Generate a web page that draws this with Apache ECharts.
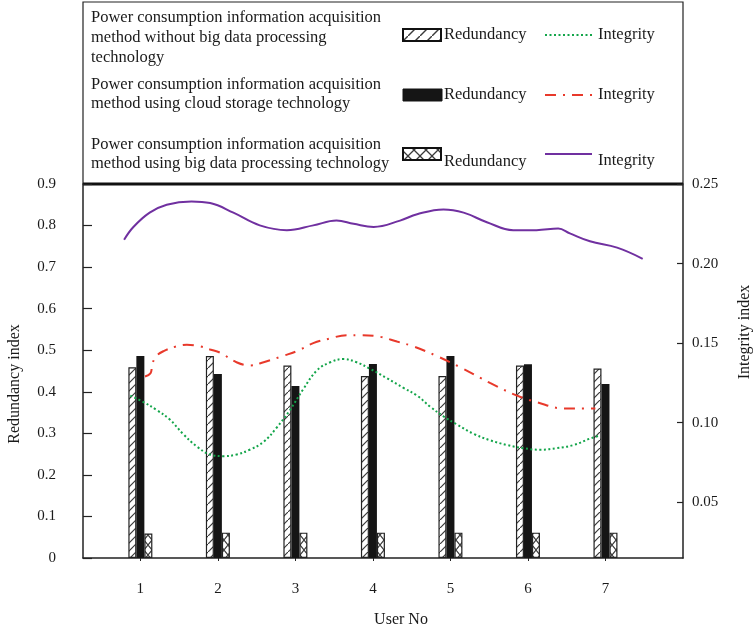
<!DOCTYPE html>
<html><head><meta charset="utf-8">
<script src="https://cdn.jsdelivr.net/npm/echarts@6/dist/echarts.min.js"></script>
<style>html,body{margin:0;padding:0;background:#fff}#c{width:753px;height:631px}</style>
</head><body><div id="c"></div>
<script>
// ---- data ----
const userNos = [1, 2, 3, 4, 5, 6, 7];
const redundancyTicks = [0, 0.1, 0.2, 0.3, 0.4, 0.5, 0.6, 0.7, 0.8, 0.9];
const integrityTicks = [0.05, 0.10, 0.15, 0.20, 0.25];
const redundancyNoBigData = [0.459, 0.486, 0.463, 0.438, 0.438, 0.463, 0.456];
const redundancyCloud     = [0.486, 0.443, 0.414, 0.467, 0.486, 0.466, 0.419];
const redundancyBigData   = [0.059, 0.061, 0.061, 0.061, 0.061, 0.061, 0.061];
// integrity curves: [userNo position, integrity index]
const integrityNoBigData = [[0.87,0.117],[1.04,0.113],[1.21,0.108],[1.38,0.102],[1.55,0.093],[1.73,0.085],[1.90,0.080],[2.07,0.079],[2.24,0.080],[2.41,0.083],[2.59,0.088],[2.76,0.097],[2.93,0.108],[3.10,0.121],[3.28,0.133],[3.45,0.138],[3.62,0.140],[3.79,0.138],[3.96,0.134],[4.18,0.128],[4.39,0.122],[4.57,0.117],[4.74,0.110],[4.91,0.104],[5.08,0.099],[5.30,0.093],[5.51,0.089],[5.73,0.086],[5.94,0.084],[6.16,0.083],[6.37,0.084],[6.59,0.086],[6.80,0.090],[6.93,0.092]];
const integrityCloud = [[1.06,0.129],[1.13,0.131],[1.15,0.135],[1.19,0.141],[1.30,0.145],[1.47,0.148],[1.60,0.149],[1.77,0.148],[1.90,0.146],[2.03,0.144],[2.24,0.138],[2.41,0.136],[2.59,0.138],[2.84,0.142],[3.02,0.145],[3.23,0.150],[3.45,0.153],[3.66,0.155],[3.83,0.155],[4.09,0.154],[4.31,0.151],[4.52,0.148],[4.82,0.142],[5.12,0.135],[5.51,0.125],[5.86,0.117],[6.11,0.113],[6.46,0.109],[6.71,0.109],[6.87,0.109]];
const integrityBigData = [[0.79,0.215],[0.91,0.223],[1.12,0.232],[1.34,0.237],[1.66,0.239],[1.90,0.238],[2.20,0.232],[2.54,0.224],[2.89,0.221],[3.23,0.224],[3.53,0.227],[3.75,0.225],[4.01,0.223],[4.35,0.227],[4.57,0.231],[4.91,0.234],[5.17,0.232],[5.47,0.226],[5.81,0.221],[6.11,0.221],[6.39,0.222],[6.54,0.219],[6.80,0.214],[7.15,0.210],[7.48,0.203]];

const legendTitles = [
  ['Power consumption information acquisition', 'method without big data processing', 'technology'],
  ['Power consumption information acquisition', 'method using cloud storage technology'],
  ['Power consumption information acquisition', 'method using big data processing technology']
];
const FONT = 'Liberation Serif';

function makeHatch(size, lw) {
  const c = document.createElement('canvas'); c.width = size; c.height = size;
  const g = c.getContext('2d');
  g.fillStyle = '#fff'; g.fillRect(0, 0, size, size);
  g.strokeStyle = '#3a3a3a'; g.lineWidth = lw;
  g.beginPath(); g.moveTo(-1, size + 1); g.lineTo(size + 1, -1); g.stroke();
  return c;
}
function makeCross(w, h, lw) {
  const c = document.createElement('canvas'); c.width = w; c.height = h;
  const g = c.getContext('2d');
  g.fillStyle = '#fff'; g.fillRect(0, 0, w, h);
  g.strokeStyle = '#3a3a3a'; g.lineWidth = lw;
  g.beginPath(); g.moveTo(0, 0); g.lineTo(w, h); g.moveTo(0, h); g.lineTo(w, 0); g.stroke();
  return c;
}
const hatch = makeHatch(8, 1.2);
const cross = makeCross(8, 10, 1.1);
const hatchL = makeHatch(12, 1.4);
const crossL = makeCross(12, 12, 1.3);

const chart = echarts.init(document.getElementById('c'));

const textStyle = (x, y, s, extra) => Object.assign({
  type: 'text', x: x, y: y,
  style: { text: s, font: '16.5px ' + FONT, fill: '#1a1a1a', textVerticalAlign: 'middle' }
}, extra || {});

const graphics = [
  { type: 'rect', shape: { x: 83, y: 2, width: 600, height: 182 }, style: { fill: 'none', stroke: '#222', lineWidth: 1.2 } },
  { type: 'line', shape: { x1: 83, y1: 184, x2: 683, y2: 184 }, style: { stroke: '#111', lineWidth: 3 } }
];
const blockY = [[18, 38, 58], [85, 104], [145, 164]];
legendTitles.forEach((lines, b) => lines.forEach((s, i) => graphics.push(textStyle(91, blockY[b][i], s))));
// legend symbols
graphics.push({ type: 'rect', shape: { x: 403, y: 29, width: 38, height: 12 }, style: { fill: { image: hatchL, repeat: 'repeat' }, stroke: '#111', lineWidth: 2 } });
graphics.push({ type: 'rect', shape: { x: 403, y: 89, width: 39, height: 12 }, style: { fill: '#151515', stroke: '#151515', lineWidth: 1 } });
graphics.push({ type: 'rect', shape: { x: 403, y: 148, width: 38, height: 12 }, style: { fill: { image: crossL, repeat: 'repeat' }, stroke: '#111', lineWidth: 2 } });
graphics.push(textStyle(444, 35, 'Redundancy'));
graphics.push(textStyle(444, 95, 'Redundancy'));
graphics.push(textStyle(444, 162, 'Redundancy'));
graphics.push({ type: 'line', shape: { x1: 545, y1: 35, x2: 592, y2: 35 }, style: { stroke: '#13a54a', lineWidth: 2, lineDash: [2, 2.5] } });
graphics.push({ type: 'line', shape: { x1: 545, y1: 95, x2: 592, y2: 95 }, style: { stroke: '#e8392b', lineWidth: 2, lineDash: [11, 7, 2, 7] } });
graphics.push({ type: 'line', shape: { x1: 545, y1: 154, x2: 592, y2: 154 }, style: { stroke: '#7030a0', lineWidth: 2 } });
graphics.push(textStyle(598, 35, 'Integrity'));
graphics.push(textStyle(598, 95, 'Integrity'));
graphics.push(textStyle(598, 161, 'Integrity'));
// axis titles
graphics.push({ type: 'text', x: 15, y: 384, rotation: Math.PI / 2, style: { text: 'Redundancy index', font: '16px ' + FONT, fill: '#1a1a1a', textAlign: 'center', textVerticalAlign: 'middle' } });
graphics.push({ type: 'text', x: 745, y: 332, rotation: Math.PI / 2, style: { text: 'Integrity index', font: '16px ' + FONT, fill: '#1a1a1a', textAlign: 'center', textVerticalAlign: 'middle' } });
graphics.push({ type: 'text', x: 401, y: 620, style: { text: 'User No', font: '16px ' + FONT, fill: '#1a1a1a', textAlign: 'center', textVerticalAlign: 'middle' } });

const axisLabelBase = { fontFamily: FONT, fontSize: 15, color: '#1a1a1a' };

const option = {
  animation: false,
  backgroundColor: '#fff',
  grid: { left: 83, top: 184, width: 600, height: 374 },
  xAxis: {
    type: 'value', min: 0.26, max: 8.0,
    axisLine: { show: true, lineStyle: { color: '#222', width: 1.5 } },
    axisTick: { show: true, customValues: userNos, length: 3, lineStyle: { color: '#222' } },
    axisLabel: Object.assign({ customValues: userNos, margin: 24 }, axisLabelBase),
    splitLine: { show: false }
  },
  yAxis: [
    {
      type: 'value', min: 0, max: 0.9, interval: 0.1, position: 'left',
      axisLine: { show: true, lineStyle: { color: '#222', width: 1.5 } },
      axisTick: { show: true, inside: true, length: 9, customValues: redundancyTicks, lineStyle: { color: '#222', width: 1.2 } },
      axisLabel: Object.assign({ customValues: redundancyTicks, margin: 27, formatter: v => (v === 0 ? '0' : v.toFixed(1)) }, axisLabelBase),
      splitLine: { show: false }
    },
    {
      type: 'value', min: 0.015, max: 0.25, position: 'right',
      axisLine: { show: true, lineStyle: { color: '#222', width: 1.5 } },
      axisTick: { show: true, inside: true, length: 6, customValues: integrityTicks, lineStyle: { color: '#222', width: 1.2 } },
      axisLabel: Object.assign({ customValues: integrityTicks, margin: 9, formatter: v => v.toFixed(2) }, axisLabelBase),
      splitLine: { show: false }
    }
  ],
  graphic: graphics,
  series: [
    { type: 'bar', name: 'Redundancy without big data', barWidth: 8, barGap: '0%',
      data: userNos.map((u, i) => [u, redundancyNoBigData[i]]),
      itemStyle: { color: { image: hatch, repeat: 'repeat' }, borderColor: '#222', borderWidth: 1.2 } },
    { type: 'bar', name: 'Redundancy cloud storage', barWidth: 8, barGap: '0%',
      data: userNos.map((u, i) => [u, redundancyCloud[i]]),
      itemStyle: { color: '#151515' } },
    { type: 'bar', name: 'Redundancy big data', barWidth: 8, barGap: '0%',
      data: userNos.map((u, i) => [u, redundancyBigData[i]]),
      itemStyle: { color: { image: cross, repeat: 'repeat' }, borderColor: '#222', borderWidth: 1.2 } },
    { type: 'line', name: 'Integrity without big data', yAxisIndex: 1, smooth: 0.4, showSymbol: false,
      data: integrityNoBigData, lineStyle: { color: '#13a54a', width: 2, type: [2, 2.5] }, z: 5 },
    { type: 'line', name: 'Integrity cloud storage', yAxisIndex: 1, smooth: 0.4, showSymbol: false,
      data: integrityCloud, lineStyle: { color: '#e8392b', width: 2, type: [11, 7, 2, 7] }, z: 5 },
    { type: 'line', name: 'Integrity big data', yAxisIndex: 1, smooth: 0.4, showSymbol: false,
      data: integrityBigData, lineStyle: { color: '#7030a0', width: 2 }, z: 5 }
  ]
};
chart.setOption(option);
</script>
</body></html>
